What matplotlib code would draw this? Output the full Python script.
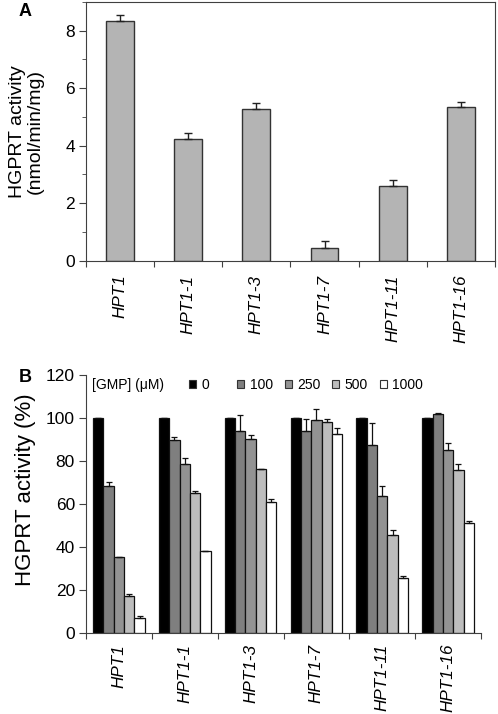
import numpy as np
import matplotlib
matplotlib.use('Agg')
import matplotlib.pyplot as plt
from matplotlib.patches import Patch
from matplotlib.ticker import MultipleLocator, FixedLocator

plt.rcParams['font.family'] = ['Liberation Sans', 'DejaVu Sans']

# data
strains = ['HPT1', 'HPT1-1', 'HPT1-3', 'HPT1-7', 'HPT1-11', 'HPT1-16']

# panel A: activity (nmol/min/mg) and upper error
activity = [8.33, 4.23, 5.26, 0.44, 2.60, 5.33]
activity_err = [0.21, 0.21, 0.22, 0.23, 0.21, 0.20]

# panel B: relative activity (%) per GMP concentration
gmp_labels = ['0', '100', '250', '500', '1000']
rel_0 = [100, 100, 100, 100, 100, 100]
rel_100 = [68.3, 89.6, 93.9, 93.9, 87.2, 101.7]
rel_250 = [35.1, 78.4, 90.3, 98.9, 63.5, 85.1]
rel_500 = [16.9, 65.2, 76.4, 98.1, 45.3, 75.7]
rel_1000 = [6.7, 38.0, 60.8, 92.7, 25.3, 51.2]
err_0 = [0, 0, 0, 0, 0, 0]
err_100 = [1.8, 1.5, 7.3, 5.7, 10.3, 0.7]
err_250 = [0, 2.9, 1.9, 5.4, 4.6, 3.4]
err_500 = [1.3, 0.6, 0, 1.5, 2.4, 2.7]
err_1000 = [0.9, 0.2, 1.6, 2.4, 1.2, 1.0]

rel_series = [rel_0, rel_100, rel_250, rel_500, rel_1000]
err_series = [err_0, err_100, err_250, err_500, err_1000]
bar_colors = ['#000000', '#7f7f7f', '#939393', '#bdbdbd', '#ffffff']

spine_col = '#404040'

fig = plt.figure(figsize=(4.98, 7.14), dpi=100)

#panel A
axA = fig.add_axes([0.1727, 0.6349, 0.821, 0.3623])
x = np.arange(len(strains)) + 0.5
zeros = np.zeros(len(strains))
axA.bar(x, activity, width=0.41, color='#b4b4b4', edgecolor='#333333', linewidth=1,
        yerr=[zeros, activity_err], error_kw=dict(ecolor='#222222', elinewidth=1, capsize=3, capthick=1))
axA.set_xlim(0, 6)
axA.set_ylim(0, 9)
axA.yaxis.set_major_locator(FixedLocator([0, 2, 4, 6, 8]))
axA.yaxis.set_minor_locator(MultipleLocator(1))
axA.xaxis.set_major_locator(FixedLocator(np.arange(0, 7)))
axA.xaxis.set_minor_locator(FixedLocator(x))
axA.set_xticklabels([])
axA.set_xticklabels(strains, minor=True, rotation=90, style='italic', fontsize=12.3)
axA.tick_params(axis='x', which='major', length=4, color=spine_col)
axA.tick_params(axis='x', which='minor', length=0, pad=10)
axA.tick_params(axis='y', which='major', length=5, labelsize=12.5, pad=3, color=spine_col)
axA.tick_params(axis='y', which='minor', length=3, color=spine_col)
for s in axA.spines.values():
    s.set_color(spine_col)
axA.set_ylabel('HGPRT activity\n(nmol/min/mg)', fontsize=14, linespacing=1.1)
axA.yaxis.set_label_coords(-0.103, 0.5)

#panel B
axB = fig.add_axes([0.1727, 0.1139, 0.7932, 0.3609])
w = 0.157
for i in range(len(rel_series)):
    axB.bar(x + (i - 2) * w, rel_series[i], width=w, color=bar_colors[i],
            edgecolor='#111111', linewidth=0.9,
            yerr=[zeros, err_series[i]],
            error_kw=dict(ecolor='#111111', elinewidth=0.9, capsize=2.5, capthick=0.9))
axB.set_xlim(0, 6)
axB.set_ylim(0, 120)
axB.yaxis.set_major_locator(MultipleLocator(20))
axB.xaxis.set_major_locator(FixedLocator(np.arange(0, 7)))
axB.xaxis.set_minor_locator(FixedLocator(x))
axB.set_xticklabels([])
axB.set_xticklabels(strains, minor=True, rotation=90, style='italic', fontsize=12.3)
axB.tick_params(axis='x', which='major', length=4, color=spine_col)
axB.tick_params(axis='x', which='minor', length=0, pad=8)
axB.tick_params(axis='y', which='major', length=5, labelsize=12.5, pad=3, color=spine_col)
axB.spines['top'].set_visible(False)
axB.spines['right'].set_visible(False)
axB.spines['left'].set_color(spine_col)
axB.spines['bottom'].set_color(spine_col)
axB.set_ylabel('HGPRT activity (%)', fontsize=16)
axB.yaxis.set_label_coords(-0.127, 0.554)

axB.text(0.015, 0.961, '[GMP] (\u03bcM)', transform=axB.transAxes, fontsize=10,
         ha='left', va='center')
handles = [Patch(facecolor=c, edgecolor='#333333', linewidth=0.8) for c in bar_colors]
leg0 = axB.legend(handles[:1], gmp_labels[:1], loc='center left', bbox_to_anchor=(0.26, 0.961),
                  frameon=False, fontsize=10, handlelength=0.5, handleheight=0.5,
                  handletextpad=0.4, borderpad=0, borderaxespad=0)
axB.add_artist(leg0)
axB.legend(handles[1:], gmp_labels[1:], loc='center left', bbox_to_anchor=(0.383, 0.961),
           ncol=4, frameon=False, fontsize=10, handlelength=0.5, handleheight=0.5,
           handletextpad=0.4, columnspacing=0.85, borderpad=0, borderaxespad=0)

fig.text(25 / 498, 1 - 12 / 714, 'A', fontsize=13, fontweight='bold', ha='center', va='center')
fig.text(25 / 498, 1 - 378 / 714, 'B', fontsize=13, fontweight='bold', ha='center', va='center')

fig.savefig('out.png', dpi=100)
